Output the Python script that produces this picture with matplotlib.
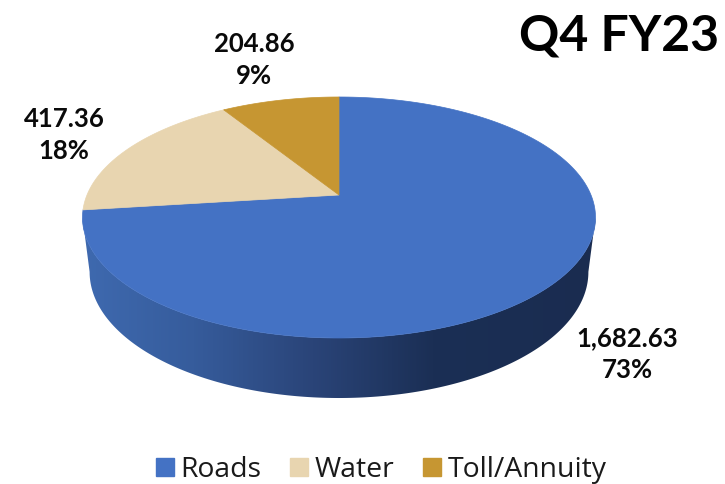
import numpy as np
import matplotlib
matplotlib.use('Agg')
import matplotlib.pyplot as plt
from matplotlib.colors import LinearSegmentedColormap
from matplotlib.patches import Patch, Polygon

categories = ['Roads', 'Water', 'Toll/Annuity']
values = [1682.63, 417.36, 204.86]
value_labels = ['1,682.63', '417.36', '204.86']
pct_labels = ['73%', '18%', '9%']
colors = ['#4472C4', '#E8D5B0', '#C69632']
title = 'Q4 FY23'

# pie geometry in pixels, perspective squeezes the far side
cx = 339
persp = 0.1867
top_r, top_y0, top_p = 252, 195, -79.9
base_r, base_y0, base_p = 245, 248.5, -75.2


def rim(theta, r, y0, p):
    u, v = np.sin(theta), np.cos(theta)
    w = 1 + persp * v
    return cx + r * u / w, (y0 + p * v) / w


def front_rim(r, y0, p):
    # only the part between the right and left extremes is visible
    x, y = rim(np.linspace(np.pi * 0.3, np.pi * 1.7, 600), r, y0, p)
    a, b = x.argmax(), x.argmin()
    return x[a:b + 1], y[a:b + 1]


fig = plt.figure(figsize=(7.25, 4.84), dpi=100)
ax = fig.add_axes([0, 0, 1, 1])
ax.axis('off')

edges = 2 * np.pi * np.concatenate([[0], np.cumsum(values)]) / np.sum(values)

# side wall of the roads slice, lit from the left
wall = LinearSegmentedColormap.from_list(
    'wall', [(0, '#3F6AB0'), (0.22, '#365C9C'), (0.45, '#2A4478'), (0.68, '#1B2F55'), (1, '#1A2C50')])
tx, ty = front_rim(top_r, top_y0, top_p)
bx, by = front_rim(base_r, base_y0, base_p)
outline = Polygon(np.c_[np.r_[tx, bx[::-1]], np.r_[ty, by[::-1]]], transform=ax.transData, fc='none', ec='none')
ax.add_patch(outline)
grad = ax.imshow(np.linspace(0, 1, 512)[None, :], cmap=wall, extent=(78, 600, 402, 150), aspect='auto', zorder=1)
grad.set_clip_path(outline)
ax.set_xlim(0, 725)
ax.set_ylim(484, 0)

# top face
for i in range(len(values)):
    th = np.linspace(edges[i], edges[i + 1], 200)
    x, y = rim(th, top_r, top_y0, top_p)
    ax.fill(np.r_[cx, x], np.r_[top_y0, y], color=colors[i], lw=0.5, zorder=2)

# data labels
label_pos = [(627, 354), (64, 135), (254, 60)]
for i in range(len(values)):
    ax.text(label_pos[i][0], label_pos[i][1], value_labels[i] + '\n' + pct_labels[i],
            family='Lato', weight='bold', fontsize=18.5, ha='center', va='center',
            color='#0A0A0A', linespacing=1.42, zorder=3)

ax.text(719, 36, title, family='Lato', weight='bold', fontsize=36, ha='right', va='center', color='black')

handles = [Patch(color=c, label=n) for c, n in zip(colors, categories)]
ax.legend(handles=handles, ncols=3, frameon=False, loc='center', bbox_to_anchor=(381, 470),
          bbox_transform=ax.transData, prop={'family': 'Open Sans', 'size': 20.4},
          handlelength=0.64, handleheight=0.64, handletextpad=0.22, columnspacing=1.02,
          labelcolor='#1A1A1A', borderpad=0, borderaxespad=0)

fig.savefig('out.png', dpi=100)
